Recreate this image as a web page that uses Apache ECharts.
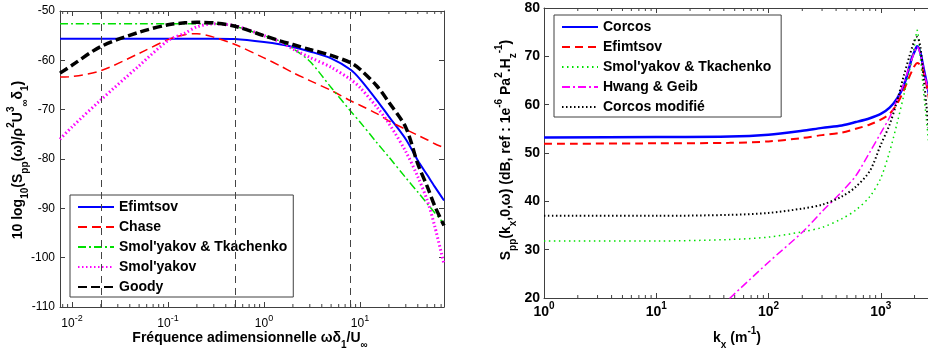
<!DOCTYPE html>
<html>
<head>
<meta charset="utf-8">
<script src="https://cdn.jsdelivr.net/npm/echarts@6/dist/echarts.min.js"></script>
<style>html,body{margin:0;padding:0;background:#fff;}#c{width:928px;height:353px;}</style>
</head>
<body>
<div id="c"></div>
<script>
// ---------- Left plot data ----------
const leftX = [0.0075, 0.01, 0.02, 0.05, 0.1, 0.15, 0.2, 0.3, 0.5, 1, 1.5, 2, 3, 5, 8, 10, 15, 20, 30, 40, 50, 60, 75];
const leftEfimtsov = [-55.6, -55.6, -55.6, -55.6, -55.6, -55.6, -55.6, -55.6, -55.7, -56.3, -56.8, -57.3, -58.2, -59.6, -61.9, -63.8, -68.1, -71.4, -76.0, -80.3, -83.2, -85.6, -88.4];
const leftChase = [-63.4, -63.3, -62.1, -58.6, -55.8, -54.8, -54.6, -55.3, -56.8, -59.5, -61.2, -62.5, -64.1, -66.1, -68.2, -69.1, -70.8, -72.3, -74.0, -75.2, -76.1, -76.9, -77.7];
const leftSmolTka = [-52.6, -52.6, -52.6, -52.6, -52.6, -52.6, -52.6, -52.6, -53.1, -55.0, -56.2, -57.6, -60.2, -65.5, -70.3, -72.5, -76.7, -79.6, -83.8, -86.7, -89.0, -90.9, -93.1];
const leftSmol = [-76.0, -73.5, -68.0, -61.1, -56.0, -54.5, -53.2, -52.6, -53.0, -55.0, -56.3, -57.7, -59.4, -61.4, -63.9, -65.5, -69.5, -72.8, -78.5, -83.6, -88.3, -93.6, -101.3];
const leftGoody = [-62.6, -61.0, -57.2, -54.3, -52.8, -52.4, -52.3, -52.4, -53.1, -55.0, -56.1, -56.8, -57.8, -59.0, -60.5, -61.8, -65.2, -68.5, -73.6, -81.0, -85.5, -89.5, -93.5];
const leftVLines = [0.02, 0.5, 8];
const leftYTicks = { min: -110, max: -50, step: 10 };
const leftNames = ['Efimtsov', 'Chase', "Smol'yakov & Tkachenko", "Smol'yakov", 'Goody'];

// ---------- Right plot data ----------
const rightX = [1, 10, 45, 100, 200, 300, 450, 600, 800, 1000, 1200, 1400, 1600, 1800, 1900, 2000, 2110, 2250, 2400, 2550, 2700];
const rightCorcos = [53.2, 53.3, 53.4, 53.8, 54.6, 55.2, 55.7, 56.4, 57.2, 58.1, 59.4, 61.3, 63.9, 67.8, 69.8, 71.0, 72.1, 70.8, 67.7, 64.8, 62.0];
const rightEfimtsov = [51.9, 52.0, 52.1, 52.4, 53.1, 53.7, 54.2, 55.0, 55.9, 56.9, 58.1, 60.2, 62.9, 65.8, 67.0, 68.0, 68.6, 68.2, 66.8, 64.3, 61.0];
const rightSmolTka = [31.8, 31.8, 32.1, 32.6, 33.7, 34.6, 36.4, 38.2, 41.0, 44.8, 50.3, 56.2, 61.8, 67.0, 69.5, 72.3, 75.4, 70.0, 63.0, 57.0, 51.0];
const rightHwang = [null, null, 19.9, 27.4, 33.6, 37.9, 42.0, 45.3, 50.2, 54.1, 57.4, 61.0, 64.3, 68.0, 69.5, 71.0, 72.0, 70.6, 67.5, 64.6, 62.0];
const rightCorcosMod = [37.0, 37.0, 37.2, 37.6, 38.5, 39.3, 41.0, 43.0, 46.3, 51.7, 55.9, 60.8, 65.9, 70.0, 71.8, 73.3, 74.0, 72.0, 66.0, 60.0, 54.0];
const rightYTicks = { min: 20, max: 80, step: 10 };
const rightNames = ['Corcos', 'Efimtsov ', "Smol'yakov & Tkachenko ", 'Hwang & Geib', 'Corcos modifié'];

// minor log ticks (2..9 x decade)
function minorTicks(lo, hi) {
  const out = [];
  for (let e = Math.floor(Math.log10(lo)); e <= Math.ceil(Math.log10(hi)); e++) {
    for (let m = 2; m <= 9; m++) {
      const v = m * Math.pow(10, e);
      if (v > lo && v < hi) out.push(v);
    }
  }
  return out;
}
const leftMinor = minorTicks(0.0075, 75);
const rightMinor = minorTicks(1, 10000);

const F = '"Liberation Sans", Arial, Helvetica, sans-serif';
const AX = '#404040';

const chart = echarts.init(document.getElementById('c'), null, { renderer: 'canvas' });

function pairs(xs, ys) { return xs.map((x, i) => [x, ys[i]]); }
function expLabel(v) { return '{b|10}{p|' + Math.round(Math.log10(v)) + '}'; }

function lineSeries(name, xs, ys, xi, yi, color, width, type, z) {
  return {
    type: 'line', name: name, data: pairs(xs, ys), xAxisIndex: xi, yAxisIndex: yi,
    symbol: 'none', showSymbol: false, smooth: 0.3, connectNulls: false, z: z || 2,
    lineStyle: { color: color, width: width, type: type, cap: 'butt' },
    itemStyle: { color: color }, emphasis: { disabled: true }
  };
}

function minorSeries(vals, xi, yi, yv) {
  return {
    type: 'custom', xAxisIndex: xi, yAxisIndex: yi, silent: true, z: 5,
    data: vals.map(v => [v, yv]),
    renderItem: function (params, api) {
      const px = api.coord([api.value(0), api.value(1)])[0];
      const cs = params.coordSys;
      return {
        type: 'group', children: [
          { type: 'line', shape: { x1: px, y1: cs.y + cs.height, x2: px, y2: cs.y + cs.height - 3 }, style: { stroke: AX, lineWidth: 1 } },
          { type: 'line', shape: { x1: px, y1: cs.y, x2: px, y2: cs.y + 3 }, style: { stroke: AX, lineWidth: 1 } }
        ]
      };
    }
  };
}

const axisLineStyle = { show: true, lineStyle: { color: AX, width: 1 } };

const lblRichL = {
  b: { fontSize: 12, fontFamily: F, color: '#000', lineHeight: 20 },
  p: { fontSize: 9, fontFamily: F, color: '#000', lineHeight: 10, verticalAlign: 'top' }
};
const lblRichR = {
  b: { fontSize: 14, fontFamily: F, fontWeight: 'bold', color: '#000', lineHeight: 22 },
  p: { fontSize: 10, fontFamily: F, fontWeight: 'bold', color: '#000', lineHeight: 11, verticalAlign: 'top' }
};

const txtRich = {
  n: { fontSize: 14, fontWeight: 'bold', fontFamily: F, fill: '#000', lineHeight: 24 },
  b: { fontSize: 10, fontWeight: 'bold', fontFamily: F, fill: '#000', lineHeight: 12, verticalAlign: 'bottom' },
  p: { fontSize: 10, fontWeight: 'bold', fontFamily: F, fill: '#000', lineHeight: 12, verticalAlign: 'top' }
};

const legendBase = {
  orient: 'vertical', padding: [5, 6, 3, 7],
  itemWidth: 36, itemHeight: 14, itemGap: 6, itemTextGap: 4,
  borderColor: AX, borderWidth: 1, backgroundColor: '#fff', selectedMode: false,
  itemStyle: { opacity: 0 },
  textStyle: { fontSize: 14, fontWeight: 'bold', fontFamily: F, color: '#000' }
};

const option = {
  animation: false,
  backgroundColor: '#fff',
  grid: [
    { left: 60, top: 11, width: 384, height: 296, show: false, outerBoundsMode: 'none', containLabel: false },
    { left: 544, top: 8, width: 449, height: 290, show: false, outerBoundsMode: 'none', containLabel: false }
  ],
  xAxis: [
    { gridIndex: 0, type: 'log', logBase: 10, min: 0.0075, max: 75, position: 'bottom',
      axisLine: axisLineStyle, axisTick: { show: true, inside: true, length: 5, lineStyle: { color: AX } },
      splitLine: { show: false }, minorTick: { show: false },
      axisLabel: { margin: 7, showMinLabel: false, showMaxLabel: false, formatter: expLabel, rich: lblRichL } },
    { gridIndex: 0, type: 'log', logBase: 10, min: 0.0075, max: 75, position: 'top',
      axisLine: axisLineStyle, axisTick: { show: true, inside: true, length: 5, lineStyle: { color: AX } },
      splitLine: { show: false }, axisLabel: { show: false } },
    { gridIndex: 1, type: 'log', logBase: 10, min: 1, max: 10000, position: 'bottom',
      axisLine: axisLineStyle, axisTick: { show: true, inside: true, length: 5, lineStyle: { color: AX } },
      splitLine: { show: false },
      axisLabel: { margin: 3, showMaxLabel: false, formatter: expLabel, rich: lblRichR } },
    { gridIndex: 1, type: 'log', logBase: 10, min: 1, max: 10000, position: 'top',
      axisLine: axisLineStyle, axisTick: { show: true, inside: true, length: 5, lineStyle: { color: AX } },
      splitLine: { show: false }, axisLabel: { show: false } }
  ],
  yAxis: [
    { gridIndex: 0, type: 'value', min: leftYTicks.min, max: leftYTicks.max, interval: leftYTicks.step, position: 'left',
      axisLine: axisLineStyle, axisTick: { show: true, inside: true, length: 5, lineStyle: { color: AX } },
      splitLine: { show: false },
      axisLabel: { margin: 5, fontSize: 12, fontFamily: F, color: '#000' } },
    { gridIndex: 0, type: 'value', min: leftYTicks.min, max: leftYTicks.max, interval: leftYTicks.step, position: 'right',
      axisLine: axisLineStyle, axisTick: { show: true, inside: true, length: 5, lineStyle: { color: AX } },
      splitLine: { show: false }, axisLabel: { show: false } },
    { gridIndex: 1, type: 'value', min: rightYTicks.min, max: rightYTicks.max, interval: rightYTicks.step, position: 'left',
      axisLine: axisLineStyle, axisTick: { show: true, inside: true, length: 5, lineStyle: { color: AX } },
      splitLine: { show: false },
      axisLabel: { margin: 4, fontSize: 14, fontWeight: 'bold', fontFamily: F, color: '#000' } }
  ],
  legend: [
    Object.assign({ data: leftNames, left: 70, top: 195 }, legendBase),
    Object.assign({ data: rightNames, left: 554, top: 15 }, legendBase)
  ],
  graphic: [
    { type: 'text', x: 250, y: 338, silent: true,
      style: { text: '{n|Fréquence adimensionnelle ωδ}{b|1}{n|/U}{b|∞}', rich: txtRich, align: 'center', verticalAlign: 'middle' } },
    { type: 'text', x: 18, y: 160, rotation: Math.PI / 2, silent: true,
      style: { text: '{n|10 log}{b|10}{n|(S}{b|pp}{n|(ω)/ρ}{p|2}{n|U}{p|3}{b|∞}{n|δ}{b|1}{n|)}', rich: txtRich, align: 'center', verticalAlign: 'middle' } },
    { type: 'text', x: 737, y: 338, silent: true,
      style: { text: '{n|k}{b|x}{n| (m}{p|-1}{n|)}', rich: txtRich, align: 'center', verticalAlign: 'middle' } },
    { type: 'text', x: 506, y: 150, rotation: Math.PI / 2, silent: true,
      style: { text: '{n|S}{b|pp}{n|(k}{b|x}{n|,0,ω) (dB, ref : 1e}{p|-6}{n| Pa}{p|2}{n|.H}{b|z}{p|-1}{n|)}', rich: txtRich, align: 'center', verticalAlign: 'middle' } }
  ],
  series: [
    Object.assign(lineSeries(leftNames[0], leftX, leftEfimtsov, 0, 0, '#0000ff', 2, 'solid', 2), {
      markLine: { silent: true, symbol: ['none', 'none'], label: { show: false }, animation: false,
        lineStyle: { color: '#444', width: 1, type: [7, 5] },
        data: leftVLines.map(v => ({ xAxis: v })) }
    }),
    lineSeries(leftNames[1], leftX, leftChase, 0, 0, '#ff0000', 1.5, [9, 5], 3),
    lineSeries(leftNames[2], leftX, leftSmolTka, 0, 0, '#00e000', 1.5, [8, 3, 2, 3], 3),
    lineSeries(leftNames[3], leftX, leftSmol, 0, 0, '#ff00ff', 3, [1.5, 2.5], 4),
    lineSeries(leftNames[4], leftX, leftGoody, 0, 0, '#000000', 3.5, [9, 4], 5),
    lineSeries(rightNames[0], rightX, rightCorcos, 2, 2, '#0000ff', 2.5, 'solid', 2),
    lineSeries(rightNames[1], rightX, rightEfimtsov, 2, 2, '#ff0000', 2, [8, 5], 3),
    lineSeries(rightNames[2], rightX, rightSmolTka, 2, 2, '#00e000', 1.5, [1.5, 3.5], 3),
    lineSeries(rightNames[3], rightX, rightHwang, 2, 2, '#ff00ff', 1.5, [8, 3, 2, 3], 3),
    lineSeries(rightNames[4], rightX, rightCorcosMod, 2, 2, '#000000', 2, [1.5, 2.5], 4),
    minorSeries(leftMinor, 0, 0, -80),
    minorSeries(rightMinor, 2, 2, 50)
  ]
};
chart.setOption(option);
</script>
</body>
</html>
